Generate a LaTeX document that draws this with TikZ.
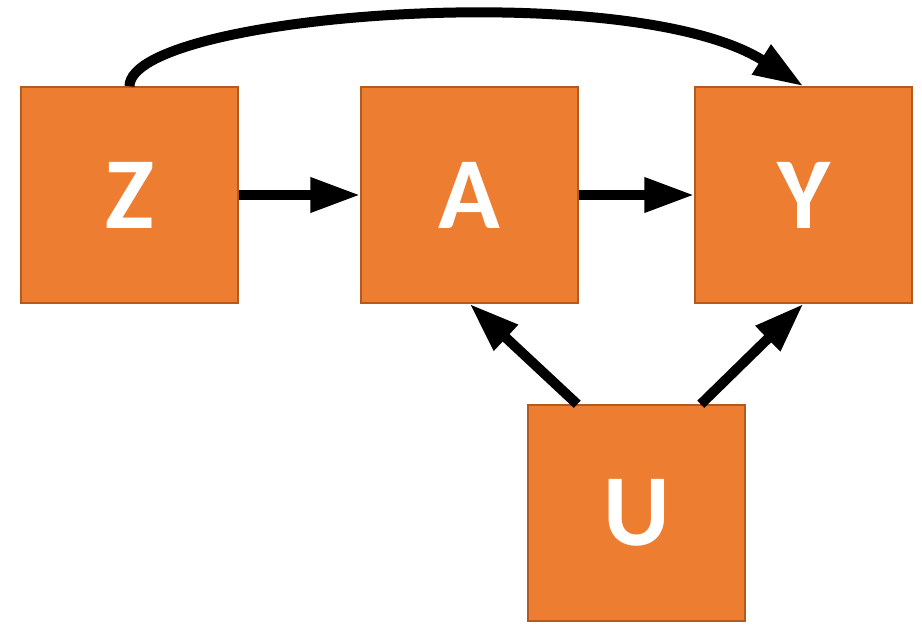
\documentclass[tikz,border=0pt]{standalone}
\usepackage{fontspec}
\setmainfont{Carlito}
\usetikzlibrary{arrows.meta,calc}
\definecolor{boxfill}{HTML}{ED7D31}
\definecolor{boxline}{HTML}{B35A1F}
\begin{document}
\begin{tikzpicture}[x=1pt,y=-1pt,
  vbox/.style={rectangle,fill=boxfill,draw=boxline,line width=1.5pt,
    minimum width=217pt,minimum height=216pt,inner sep=0pt,
    text=white,font=\fontsize{102}{102}\selectfont\bfseries},
  conn/.style={line width=10pt,-{Triangle[length=50pt,width=33pt]}}]
\useasboundingbox (0,0) rectangle (922,625);
\node[vbox] (Z) at (129.5,195) {Z};
\node[vbox] (A) at (469.5,195) {A};
\node[vbox] (Y) at (803.5,195) {Y};
\node[vbox] (U) at (636.5,513) {U};
\draw[conn] (Z.east) -- (A.west);
\draw[conn] (A.east) -- (Y.west);
\draw[conn] ($(U.north west)+(50,0)$) -- (A.south);
\draw[conn] ($(U.north east)+(-45,0)$) -- (Y.south);
\draw[conn] (Z.north) .. controls (130,14) and (630,-24) .. (Y.north);
\end{tikzpicture}
\end{document}
